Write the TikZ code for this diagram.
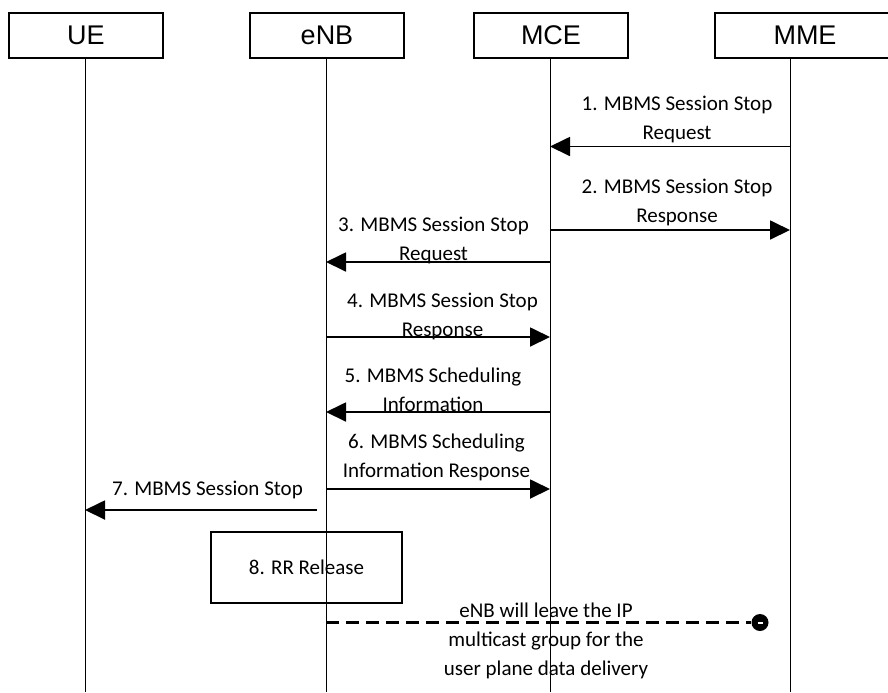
\documentclass[tikz,border=0pt]{standalone}
\usepackage{fontspec}
\newfontfamily\headfont{Liberation Sans}
\newfontfamily\labfont{Carlito}
\usetikzlibrary{arrows.meta,positioning,calc}

\begin{document}
\begin{tikzpicture}[
  x=0.5pt, y=-0.5pt,
  >=Triangle,
  head/.style={draw, line width=0.9pt, minimum width=77pt, minimum height=22.5pt,
               inner sep=0pt, font=\headfont\fontsize{13.5}{15}\selectfont},
  life/.style={line width=0.5pt},
  msg/.style={-{Triangle[length=10pt,width=9.5pt]}, line width=0.9pt},
  lab/.style={font=\labfont\fontsize{10.5}{14.5}\selectfont, align=center, inner sep=0pt},
  actbox/.style={draw, line width=0.9pt, minimum width=95.5pt, minimum height=35.5pt,
                 inner sep=0pt, font=\labfont\fontsize{10.5}{14.5}\selectfont},
  leave/.style={line width=1.5pt, dash pattern=on 6.5pt off 3.5pt},
  enddot/.style={circle, fill=black, inner sep=0pt, minimum size=8.5pt}
]
\useasboundingbox (0,0) rectangle (888,692);

% ---------------------------------------------------------------------------
% Entities and their lifelines
% ---------------------------------------------------------------------------
\node[head] (ue)  at (86,35.5)  {UE};
\node[head] (enb) at (327,35.5) {eNB};
\node[head] (mce) at (551,35.5) {MCE};
\node[head, minimum width=90pt] (mme) at (805,35.5) {MME};

\coordinate (ueL)  at (85,58);
\coordinate (enbL) at (326,58);
\coordinate (mceL) at (550,58);
\coordinate (mmeL) at (790,58);
\coordinate (bottom) at (0,692);

\draw[life] (ueL)  -- (ueL |- bottom);
\draw[life] (enbL) -- (enbL |- bottom);
\draw[life] (mceL) -- (mceL |- bottom);
\draw[life] (mmeL) -- (mmeL |- bottom);

% ---------------------------------------------------------------------------
% Messages
% ---------------------------------------------------------------------------
\coordinate (s1) at (0,146.5);
\coordinate (s2) at (0,230);
\coordinate (s3) at (0,262);
\coordinate (s4) at (0,337);
\coordinate (s5) at (0,412);
\coordinate (s6) at (0,489);
\coordinate (s7) at (0,510);
\coordinate (s7start) at (317,510);

\draw[msg] (mmeL |- s1) -- node[lab, xshift=3.5pt, yshift=13.5pt]
  {1. MBMS Session Stop\\Request} (mceL |- s1);
\draw[msg] (mceL |- s2) -- node[lab, xshift=3.5pt, yshift=13.75pt]
  {2. MBMS Session Stop\\Response} (mmeL |- s2);
\draw[msg] (mceL |- s3) -- node[lab, xshift=-2.25pt, yshift=10.75pt]
  {3. MBMS Session Stop\\Request} (enbL |- s3);
\draw[msg] (enbL |- s4) -- node[lab, xshift=2.25pt, yshift=10.5pt]
  {4. MBMS Session Stop\\Response} (mceL |- s4);
\draw[msg] (mceL |- s5) -- node[lab, xshift=-2.5pt, yshift=11.25pt]
  {5. MBMS Scheduling\\Information} (enbL |- s5);
\draw[msg] (enbL |- s6) -- node[lab, xshift=-0.75pt, yshift=15.75pt]
  {6. MBMS Scheduling\\Information Response} (mceL |- s6);
\draw[msg] (s7start) -- node[lab, xshift=3.25pt, yshift=10pt]
  {7. MBMS Session Stop} (ueL |- s7);

% RR release step on the eNB
\node[actbox] (rr) at (306.5,567.5) {8. RR Release};

% eNB leaves the multicast group
\node[enddot] (dot) at (760,622.5) {};
\draw[white, line width=0.7pt] ($(dot.center)+(-2.5,0.5)$) -- ($(dot.center)+(2.5,0.5)$);
\draw[leave] (enbL |- dot) -- (dot.west);
\node[lab] (leavetxt) at (546,641) {eNB will leave the IP\\multicast group for the\\user plane data delivery};

\end{tikzpicture}
\end{document}
